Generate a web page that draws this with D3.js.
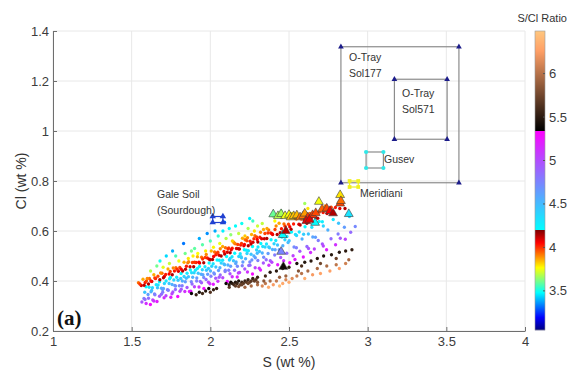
<!DOCTYPE html>
<html>
<head>
<meta charset="utf-8">
<script src="https://cdn.jsdelivr.net/npm/d3@7"></script>
<style>
  body { margin: 0; background: #fff; }
  svg { display: block; }
  text { font-family: "Liberation Sans", Arial, sans-serif; }
</style>
</head>
<body>
<svg id="chart" width="569" height="372"></svg>
<script>
// axis ticks
const xTicks = [1, 1.5, 2, 2.5, 3, 3.5, 4]
const yTicks = [0.2, 0.4, 0.6, 0.8, 1, 1.2, 1.4]
const ratioTicks = [3.5, 4, 4.5, 5, 5.5, 6]
const ratioRange = [3.05, 6.49]

// soil points [S, Cl] (colour = S/Cl)
const redBand = [
  [1.543,.393],[1.561,.382],[1.572,.407],[1.586,.394],[1.594,.400],[1.607,.388],[1.613,.410],[1.628,.398],
  [1.641,.425],[1.652,.410],[1.667,.419],[1.679,.405],[1.693,.431],[1.708,.418],[1.716,.426],[1.731,.448],
  [1.745,.438],[1.758,.425],[1.772,.440],[1.781,.453],[1.797,.439],[1.806,.454],[1.824,.440],[1.833,.475],
  [1.848,.459],[1.857,.473],[1.871,.457],[1.886,.474],[1.894,.457],[1.909,.474],[1.918,.497],[1.932,.472],
  [1.944,.495],[1.958,.473],[1.967,.494],[1.981,.492],[1.993,.487],[2.006,.520],[2.014,.486],[2.027,.516],
  [2.035,.505],[2.048,.515],[2.056,.503],[2.069,.500],[2.078,.538],[2.087,.518],[2.096,.533],[2.108,.515],
  [2.117,.532],[2.126,.513],[2.139,.531],[2.147,.556],[2.158,.549],[2.166,.530],[2.174,.546],[2.185,.528],
  [2.193,.544],[2.204,.571],[2.213,.541],[2.221,.565],[2.232,.561],[2.241,.541],[2.253,.559],[2.262,.586],
  [2.271,.555],[2.283,.581],[2.294,.576],[2.302,.556],[2.315,.575],[2.326,.569],[2.338,.606],[2.347,.590],
  [2.359,.570],[2.371,.604],[2.384,.592],[2.396,.586],[2.411,.606],[2.425,.586],[2.437,.631],[2.452,.609],
  [2.468,.628],[2.481,.607],[2.497,.627],[2.513,.607],[2.529,.628],[2.546,.648],[2.563,.627],[2.578,.648],
  [2.596,.644],[2.614,.631],[2.633,.670],[2.652,.658],[2.671,.653],[2.693,.676],[2.717,.674],[2.742,.670],
  [2.768,.695],[2.795,.694],[2.823,.690],[2.856,.690],
  [1.552,.388],[1.579,.383],[1.599,.410],[1.622,.400],[1.647,.412],[1.684,.432],[1.702,.413],[1.738,.428],
  [1.764,.452],[1.789,.447],[1.815,.447],[1.842,.447],[1.862,.477],[1.899,.475],[1.927,.475],[1.951,.488],
  [1.974,.506],[1.999,.485],[2.021,.498],[2.042,.511],[2.063,.529],[2.091,.508],[2.112,.528],[2.133,.525],
  [2.152,.552],[2.178,.529],[2.198,.550],[2.217,.546],[2.236,.573],[2.258,.548],[2.277,.569],[2.298,.566],
  [2.319,.595],[2.343,.569],[2.366,.592],[2.392,.589],[2.418,.620],[2.444,.593],[2.475,.619],[2.505,.617],
  [2.538,.651],[2.571,.624],[2.605,.651],[2.642,.651],[2.683,.651],[2.730,.700],[2.780,.675],[2.840,.710]
]
const upperBand = [
  [1.62,.44],[1.66,.46],[1.70,.455],[1.74,.47],[1.78,.50],[1.80,.48],[1.84,.51],[1.86,.49],[1.88,.52],
  [1.90,.53],[1.92,.51],[1.95,.545],[1.97,.52],[2.00,.56],[2.02,.535],[2.05,.58],[2.06,.55],[2.08,.60],
  [2.10,.57],[2.12,.61],[2.14,.56],[2.16,.62],[2.18,.59],[2.20,.63],[2.22,.58],[2.24,.61],[2.27,.64],
  [2.30,.62],[2.33,.63],[2.36,.61],[1.76,.52],[1.83,.55],[1.98,.59],[2.09,.635],[2.25,.65],[2.40,.66],
  [2.45,.68],[2.60,.71],[2.62,.69],[1.68,.48],[1.72,.50],[1.93,.57],[2.03,.60],[2.13,.585],[2.28,.60],
  [1.89,.50],[2.41,.64],[2.52,.67]
]
const cyanBand = [
  [1.583,.355],[1.591,.377],[1.604,.346],[1.611,.375],[1.623,.357],[1.632,.373],[1.645,.348],[1.656,.385],
  [1.664,.373],[1.677,.397],[1.689,.371],[1.697,.366],[1.708,.390],[1.719,.400],[1.727,.365],[1.738,.390],
  [1.746,.414],[1.757,.386],[1.768,.404],[1.774,.382],[1.786,.415],[1.795,.403],[1.803,.381],[1.814,.430],
  [1.822,.400],[1.833,.418],[1.841,.397],[1.852,.431],[1.861,.417],[1.873,.444],[1.879,.397],[1.888,.415],
  [1.897,.433],[1.905,.443],[1.914,.412],[1.923,.431],[1.931,.458],[1.942,.427],[1.949,.445],[1.958,.414],
  [1.966,.457],[1.975,.443],[1.983,.427],[1.992,.472],[2.001,.440],[2.009,.459],[2.018,.469],[2.026,.428],
  [2.035,.456],[2.043,.484],[2.052,.442],[2.061,.453],[2.069,.472],[2.078,.483],[2.086,.468],[2.095,.443],
  [2.103,.498],[2.112,.464],[2.121,.484],[2.129,.459],[2.138,.497],[2.147,.481],[2.155,.511],[2.164,.476],
  [2.172,.459],[2.181,.498],[2.190,.509],[2.198,.493],[2.207,.476],[2.216,.525],[2.224,.489],[2.233,.510],
  [2.242,.521],[2.251,.476],[2.259,.507],[2.268,.538],[2.277,.500],[2.286,.493],[2.294,.524],[2.303,.536],
  [2.312,.518],[2.321,.550],[2.330,.512],[2.339,.495],[2.348,.536],[2.357,.548],[2.367,.510],[2.376,.533],
  [2.386,.565],[2.395,.526],[2.405,.549],[2.416,.562],[2.427,.544],[2.438,.525],[2.449,.580],[2.461,.541],
  [2.474,.565],[2.487,.578],[2.501,.561],[2.516,.596],[2.532,.536],[2.548,.582],[2.565,.596],[2.583,.568],
  [2.602,.617],[2.623,.588],[2.645,.615],[2.668,.575],[2.692,.638],[2.718,.620],[2.747,.604],[2.781,.646],
  [2.815,.631],[2.852,.615],[2.884,.658],[2.921,.618],
  [1.627,.362],[1.668,.384],[1.702,.370],[1.741,.409],[1.779,.380],[1.812,.410],[1.847,.411],[1.881,.433],
  [1.918,.450],[1.953,.425],[1.988,.450],[2.022,.432],[2.057,.483],[2.091,.465],[2.126,.490],[2.161,.470],
  [2.195,.497],[2.229,.523],[2.264,.484],[2.298,.511],[2.333,.538],[2.371,.536],[2.412,.525],[2.455,.576],
  [2.494,.554],[2.541,.586],[2.593,.587],[2.651,.576],[2.712,.637]
]
const purpleBand = [
  [1.565,.316],[1.578,.330],[1.592,.310],[1.607,.331],[1.619,.306],[1.634,.324],[1.648,.345],[1.661,.318],
  [1.677,.339],[1.689,.347],[1.706,.333],[1.718,.341],[1.733,.363],[1.749,.335],[1.762,.356],[1.778,.366],
  [1.793,.338],[1.807,.359],[1.821,.381],[1.838,.358],[1.852,.374],[1.867,.358],[1.884,.388],[1.899,.377],
  [1.913,.400],[1.928,.376],[1.944,.393],[1.959,.370],[1.973,.406],[1.988,.395],[2.004,.419],[2.019,.387],
  [2.034,.411],[2.048,.399],[2.063,.424],[2.079,.413],[2.094,.438],[2.108,.398],[2.125,.429],[2.139,.417],
  [2.154,.443],[2.171,.416],[2.186,.434],[2.203,.461],[2.219,.448],[2.236,.436],[2.252,.463],[2.268,.428],
  [2.285,.453],[2.302,.482],[2.319,.444],[2.337,.472],[2.355,.485],[2.372,.463],[2.391,.475],[2.409,.504],
  [2.428,.465],[2.447,.494],[2.466,.481],[2.486,.511],[2.505,.473],[2.526,.501],[2.547,.533],[2.569,.519],
  [2.591,.496],[2.614,.538],[2.637,.514],[2.661,.528],[2.686,.562],[2.712,.548],[2.739,.525],[2.767,.569],
  [2.796,.545],[2.826,.571],[2.858,.567],[2.892,.595],
  [1.585,.326],[1.641,.320],[1.697,.355],[1.756,.349],[1.815,.367],[1.876,.359],[1.936,.398],[1.997,.389],
  [2.056,.415],[2.117,.443],[2.178,.432],[2.244,.462],[2.311,.451],[2.381,.481],[2.457,.514],[2.538,.486],
  [2.624,.530],[2.718,.540],[2.812,.588]
]
const blackBand = [
  [2.10,.39],[2.12,.385],[2.13,.395],[2.14,.39],[2.15,.385],[2.16,.395],[2.17,.39],[2.18,.40],[2.19,.385],
  [2.20,.395],[2.21,.39],[2.22,.40],[2.23,.395],[2.24,.405],[2.25,.395],[2.26,.40],[2.27,.41],[2.28,.40],
  [2.29,.405],[2.30,.415],[2.12,.375],[2.16,.38],[2.20,.385],[2.24,.39],[2.18,.378],[1.88,.35],[1.91,.345],
  [1.93,.355],[1.95,.35],[1.97,.36],[2.00,.355],[2.02,.365],[2.04,.37],[1.99,.37],[2.38,.435],[2.42,.44],
  [2.46,.45],[2.50,.455],[2.55,.47],[2.60,.475],[2.64,.48],[2.68,.49],[2.72,.50],[2.77,.505],[2.82,.515],
  [2.86,.52],[2.90,.525],[2.58,.46],[2.70,.47],[2.80,.49],[2.35,.42]
]
const brownBand = [
  [2.22,.375],[2.26,.38],[2.30,.385],[2.33,.38],[2.35,.39],[2.37,.375],[2.40,.385],[2.42,.40],[2.44,.38],
  [2.46,.39],[2.48,.405],[2.50,.395],[2.52,.41],[2.38,.40],[2.44,.415],[2.55,.42],[2.58,.43],[2.60,.41],
  [2.62,.44],[2.65,.425],[2.68,.45],[2.70,.43],[2.74,.46],[2.76,.44],[2.80,.465],[2.82,.45],[2.86,.47],
  [2.88,.485],[2.30,.395],[2.34,.40],[2.48,.42],[2.56,.44]
]
// larger triangle samples
const triangleSamples = [
  [2.40,.667],[2.43,.66],[2.45,.668],[2.475,.66],[2.50,.665],[2.51,.655],[2.53,.66],[2.55,.663],[2.57,.655],
  [2.59,.66],[2.60,.67],[2.62,.655],[2.65,.664],[2.67,.672],[2.69,.717],[2.71,.687],[2.74,.69],[2.76,.68],
  [2.78,.671],[2.825,.744],[2.825,.71],[2.83,.72],[2.88,.668],[2.666,.633],[2.61,.64],[2.46,.584],
  [2.45,.517],[2.464,.457],[2.48,.60],[2.63,.645]
]

// reference boxes [Smin, Smax, Clmin, Clmax]
const sol177Box = [2.83, 3.58, 0.793, 1.337]
const sol571Box = [3.17, 3.505, 0.967, 1.207]
const gusevBox = [2.99, 3.10, 0.852, 0.916]
const meridianiBox = [2.885, 2.94, 0.776, 0.80]
const galeBox = [2.015, 2.08, 0.634, 0.658]

const svg = d3.select('#chart')
const margin = { left: 53, right: 525, top: 31, bottom: 331 }

const x = d3.scaleLinear().domain([1, 4]).range([margin.left, margin.right])
const y = d3.scaleLinear().domain([0.2, 1.4]).range([margin.bottom, margin.top])

// colour map: jet / cool / copper in three equal parts
const third = (ratioRange[1] - ratioRange[0]) / 3
const b1 = ratioRange[0] + third
const b2 = ratioRange[0] + 2 * third
const clamp = v => Math.max(0, Math.min(1, v))
function ratioColor(v) {
  let r, g, b
  if (v < b1) {
    const t = clamp((v - ratioRange[0]) / third)
    r = clamp(1.5 - Math.abs(4 * t - 3))
    g = clamp(1.5 - Math.abs(4 * t - 2))
    b = clamp(1.5 - Math.abs(4 * t - 1))
  } else if (v < b2) {
    const t = clamp((v - b1) / third)
    r = t; g = 1 - t; b = 1
  } else {
    const t = clamp((v - b2) / third)
    r = Math.min(1, 1.25 * t); g = 0.7812 * t; b = 0.4975 * t
  }
  return d3.rgb(r * 255, g * 255, b * 255).formatHex()
}

// grid
const grid = svg.append('g').attr('stroke', '#e8e8e8').attr('stroke-width', 1)
grid.selectAll('.gx').data(xTicks).join('line')
  .attr('x1', d => x(d)).attr('x2', d => x(d))
  .attr('y1', margin.top).attr('y2', margin.bottom)
grid.selectAll('.gy').data(yTicks).join('line')
  .attr('x1', margin.left).attr('x2', margin.right)
  .attr('y1', d => y(d)).attr('y2', d => y(d))

// axes
const xAxis = svg.append('g')
  .attr('transform', `translate(0,${margin.bottom})`)
  .call(d3.axisBottom(x).tickValues(xTicks).tickFormat(d => String(d)).tickSizeInner(-4).tickSizeOuter(0).tickPadding(6))
const yAxis = svg.append('g')
  .attr('transform', `translate(${margin.left},0)`)
  .call(d3.axisLeft(y).tickValues(yTicks).tickFormat(d => String(d)).tickSizeInner(-4).tickSizeOuter(0).tickPadding(4))
for (const ax of [xAxis, yAxis]) {
  ax.select('.domain').attr('stroke', '#6e6e6e')
  ax.selectAll('.tick line').attr('stroke', '#6e6e6e')
  ax.selectAll('.tick text').attr('fill', '#3c3c3c').style('font-size', '13px')
}

// scatter points
const dots = svg.append('g')
const bands = [cyanBand, purpleBand, blackBand, brownBand, redBand, upperBand]
for (const band of bands) {
  dots.append('g').selectAll('circle').data(band).join('circle')
    .attr('cx', d => x(d[0]))
    .attr('cy', d => y(d[1]))
    .attr('r', 1.65)
    .attr('fill', d => ratioColor(d[0] / d[1]))
}

svg.append('g').selectAll('path').data(triangleSamples).join('path')
  .attr('transform', d => `translate(${x(d[0])},${y(d[1])})`)
  .attr('d', d3.symbol(d3.symbolTriangle, 34))
  .attr('fill', d => ratioColor(d[0] / d[1]))
  .attr('stroke', '#3a3a3a')
  .attr('stroke-width', 0.6)

// reference boxes
function drawBox(box, lineColor, markerColor, shape, size) {
  const g = svg.append('g')
  g.append('rect')
    .attr('x', x(box[0])).attr('y', y(box[3]))
    .attr('width', x(box[1]) - x(box[0]))
    .attr('height', y(box[2]) - y(box[3]))
    .attr('fill', 'none').attr('stroke', lineColor).attr('stroke-width', 1.2)
  const corners = [[box[0], box[2]], [box[1], box[2]], [box[0], box[3]], [box[1], box[3]]]
  g.selectAll('path').data(corners).join('path')
    .attr('transform', d => `translate(${x(d[0])},${y(d[1])})`)
    .attr('d', d3.symbol(shape, size))
    .attr('fill', markerColor)
}
drawBox(sol177Box, '#8c8c8c', '#1c1c8a', d3.symbolTriangle, 14)
drawBox(sol571Box, '#8c8c8c', '#1c1c8a', d3.symbolTriangle, 14)
drawBox(gusevBox, '#8c8c8c', '#30e8e8', d3.symbolCircle, 14)
drawBox(meridianiBox, '#f0f020', '#f0f020', d3.symbolSquare, 14)
drawBox(galeBox, '#2040d0', '#2040d0', d3.symbolTriangle, 18)

// annotations
const notes = svg.append('g')
  .style('font-family', '"Open Sans", "Noto Sans", sans-serif')
  .style('font-size', '10.5px')
  .attr('fill', '#333')
function note(tx, ty, lines) {
  const t = notes.append('text').attr('x', tx).attr('y', ty)
  lines.forEach((l, i) => t.append('tspan').attr('x', tx).attr('dy', i ? 15.5 : 0).text(l))
}
note(349, 61, ['O-Tray', 'Sol177'])
note(402, 97, ['O-Tray', 'Sol571'])
note(384, 163, ['Gusev'])
note(360, 197, ['Meridiani'])
note(157, 198, ['Gale Soil', '(Sourdough)'])

// panel letter
svg.append('text').attr('x', 57).attr('y', 325)
  .style('font-family', '"Liberation Serif", "Times New Roman", serif')
  .style('font-size', '21px').style('font-weight', 'bold')
  .attr('fill', '#111').text('(a)')

// axis labels
svg.append('text').attr('x', 289).attr('y', 367)
  .attr('text-anchor', 'middle').style('font-size', '14px').attr('fill', '#333')
  .text('S (wt %)')
svg.append('text').attr('transform', 'translate(26,181) rotate(-90)')
  .attr('text-anchor', 'middle').style('font-size', '14px').attr('fill', '#333')
  .text('Cl (wt %)')

// colour bar
const cbar = { x: 535, w: 10 }
const cy = d3.scaleLinear().domain(ratioRange).range([330, 31])
const steps = d3.range(31, 330, 1)
const cb = svg.append('g')
cb.selectAll('rect').data(steps).join('rect')
  .attr('x', cbar.x).attr('y', d => d).attr('width', cbar.w).attr('height', 1.2)
  .attr('fill', d => ratioColor(cy.invert(d + 0.5)))
cb.append('rect').attr('x', cbar.x).attr('y', 31).attr('width', cbar.w).attr('height', 299)
  .attr('fill', 'none').attr('stroke', '#9a9a9a').attr('stroke-width', 0.6)
cb.selectAll('line').data(ratioTicks).join('line')
  .attr('x1', cbar.x + cbar.w - 2).attr('x2', cbar.x + cbar.w)
  .attr('y1', d => cy(d)).attr('y2', d => cy(d)).attr('stroke', '#555')
cb.selectAll('text').data(ratioTicks).join('text')
  .attr('x', 549).attr('y', d => cy(d) + 4.5)
  .style('font-size', '13px').attr('fill', '#3c3c3c')
  .text(d => String(d))
svg.append('text').attr('x', 567).attr('y', 22)
  .attr('text-anchor', 'end').style('font-size', '11px').attr('fill', '#333')
  .text('S/Cl Ratio')
</script>
</body>
</html>
